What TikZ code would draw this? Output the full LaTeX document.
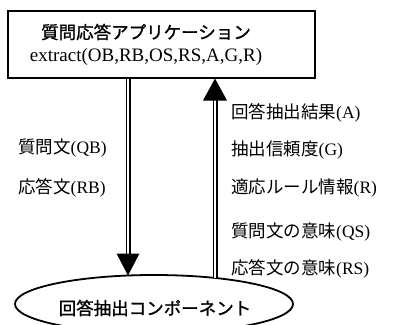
\documentclass[tikz,border=0pt]{standalone}
\usepackage{fontspec}
\setmainfont{Liberation Serif}
\newfontfamily\jp{Noto Sans CJK JP}
\newfontfamily\jpb[FakeBold=1.2]{Noto Sans CJK JP}
\usetikzlibrary{shapes.geometric}
\newcommand{\J}[1]{{\jp #1}}
\tikzset{
  boxstyle/.style={draw, line width=2pt, rectangle, inner sep=0pt},
  ovalstyle/.style={draw, line width=1.8pt, ellipse, inner sep=0pt},
  dbl/.style={draw, double, double distance=2.4pt, line width=1.3pt},
  headstyle/.style={fill=black},
  lbl/.style={font=\fontsize{17.5pt}{17.5pt}\selectfont, anchor=west, inner sep=0pt},
}
\begin{document}
\begin{tikzpicture}[x=1pt,y=-1pt]
\useasboundingbox (0,0) rectangle (393,324);
% nodes
\node[boxstyle, minimum width=307pt, minimum height=67pt] (app) at (161.5,44) {};
\node[font=\jpb\fontsize{17.5pt}{17.5pt}\selectfont, inner sep=0pt] (apptitle) at (146,32) {質問応答アプリケーション};
\node[font=\fontsize{19pt}{19pt}\selectfont, inner sep=0pt] (appsig) at (146,57) {extract(OB,RB,OS,RS,A,G,R)};
\node[ovalstyle, minimum width=278pt, minimum height=58pt] (comp) at (154,304) {};
\node[font=\jpb\fontsize{17.5pt}{17.5pt}\selectfont, inner sep=0pt] (comptext) at (155,308) {回答抽出コンポーネント};
% labels
\node[lbl] (lqb) at (18,148) {\J{質問文}(QB)};
\node[lbl] (lrb) at (18,188) {\J{応答文}(RB)};
\node[lbl] (la) at (231,113) {\J{回答抽出結果}(A)};
\node[lbl] (lg) at (231,150) {\J{抽出信頼度}(G)};
\node[lbl] (lr) at (231,188) {\J{適応ルール情報}(R)};
\node[lbl] (lqs) at (231,232) {\J{質問文の意味}(QS)};
\node[lbl] (lrs) at (231,269) {\J{応答文の意味}(RS)};
% connectors
\coordinate (dx) at (128,0);
\coordinate (ux) at (215,0);
\coordinate (dbase) at (128,254);
\coordinate (dtip) at (128,275.5);
\coordinate (ubot) at (215,278);
\coordinate (ubase) at (215,99);
\path[dbl] (app.south -| dx) -- (dbase);
\fill[headstyle] (dtip) -- ++(-11.5,-22) -- ++(23,0) -- cycle;
\path[dbl] (ubot) -- (ubase);
\fill[headstyle] (app.south -| ux) -- ++(-12,22) -- ++(24,0) -- cycle;
\end{tikzpicture}
\end{document}
